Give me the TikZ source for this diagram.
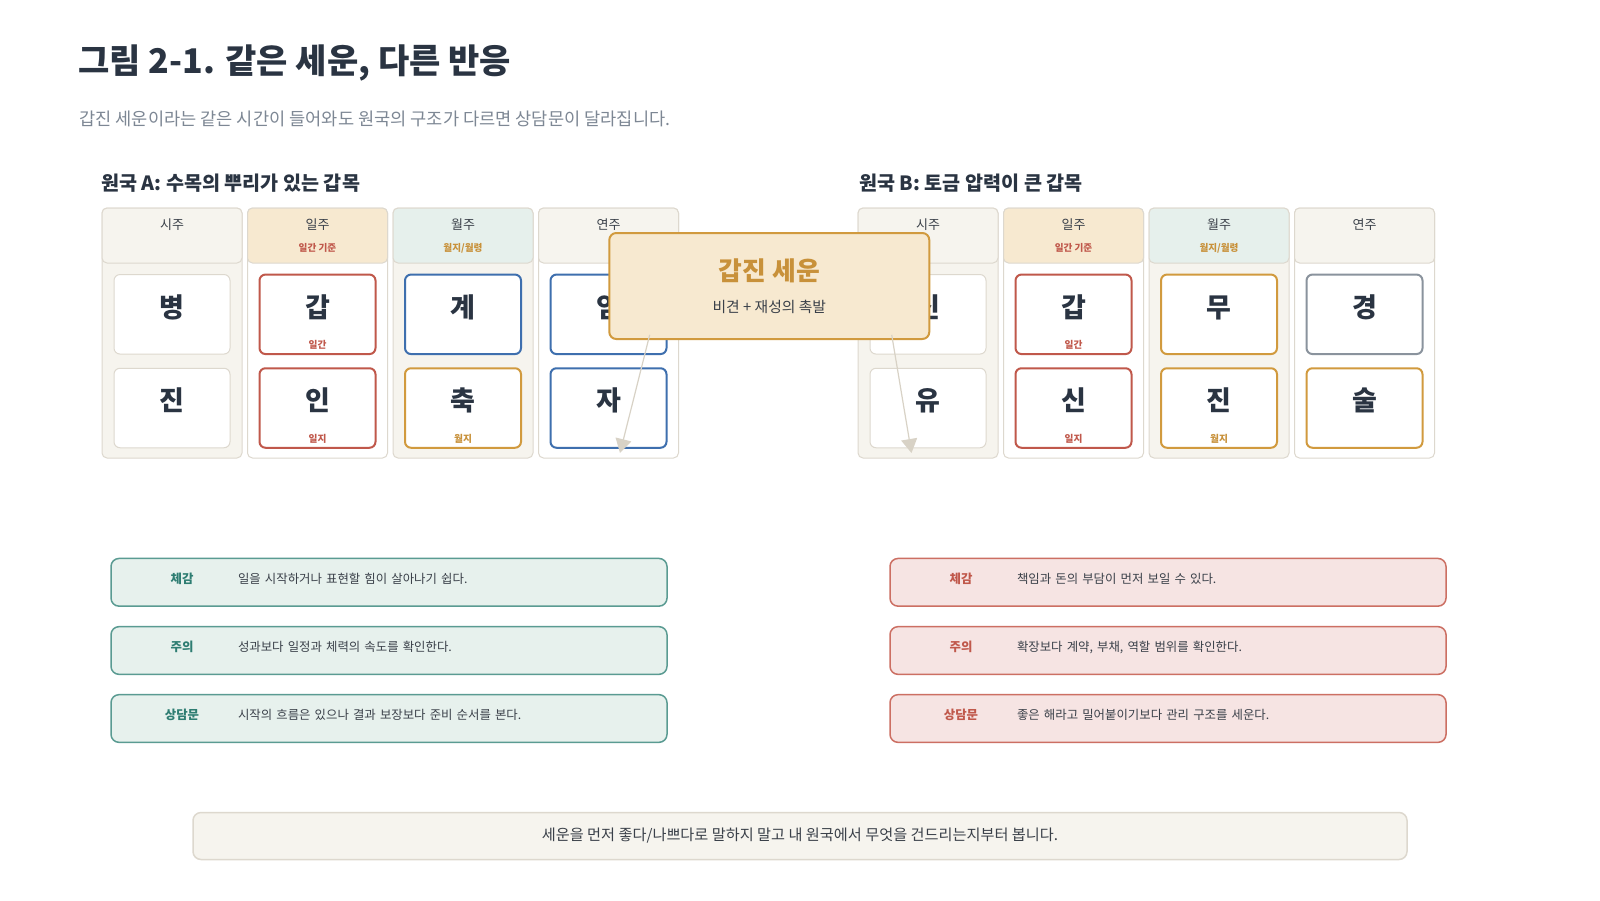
\documentclass[tikz,border=0pt]{standalone}
\usepackage{fontspec}
\setmainfont{Noto Sans CJK KR}
\usepackage{tikz}
\usetikzlibrary{positioning,arrows.meta}
\usepackage{xcolor}
\definecolor{ink}{HTML}{2A3442}
\definecolor{mutedInk}{HTML}{7D8794}
\definecolor{textInk}{HTML}{3A4049}
\definecolor{paperLine}{HTML}{DDD8CE}
\definecolor{paper}{HTML}{F6F4EE}
\definecolor{cream}{HTML}{F7E9D0}
\definecolor{mint}{HTML}{E6F0EC}
\definecolor{fireRed}{HTML}{C0584B}
\definecolor{waterBlue}{HTML}{3E6FAE}
\definecolor{earthGold}{HTML}{D19A3E}
\definecolor{goldInk}{HTML}{C8913A}
\definecolor{metalGray}{HTML}{8A939D}
\definecolor{arrowGray}{HTML}{D8D2C6}
\definecolor{tealLine}{HTML}{5A9B92}
\definecolor{tealFill}{HTML}{E7F1ED}
\definecolor{tealInk}{HTML}{2E7D72}
\definecolor{roseFill}{HTML}{F6E4E3}
\definecolor{roseLine}{HTML}{CC6F63}

\begin{document}
\begin{tikzpicture}[x=0.5pt, y=-0.5pt,
    titleText/.style={anchor=west, inner sep=0pt, font=\bfseries\fontsize{17pt}{20pt}\selectfont, text=ink},
    leadText/.style={anchor=west, inner sep=0pt, font=\fontsize{8.8pt}{10pt}\selectfont, text=mutedInk},
    chartTitle/.style={anchor=west, inner sep=0pt, font=\bfseries\fontsize{9.8pt}{11pt}\selectfont, text=ink},
    pillarCol/.style={rectangle, rounded corners=2.5pt, draw=paperLine, line width=0.5pt, minimum width=70pt, minimum height=125pt, inner sep=0pt},
    pillarHead/.style={rectangle, rounded corners=2.5pt, draw=paperLine, line width=0.5pt, minimum width=70pt, minimum height=27.5pt, inner sep=0pt, text height=10.5pt, text depth=17pt, font=\fontsize{6.5pt}{8pt}\selectfont, text=textInk},
    headSub/.style={inner sep=0pt, yshift=10.5pt, font=\bfseries\fontsize{4.8pt}{6pt}\selectfont},
    cellBox/.style={rectangle, rounded corners=3pt, fill=white, minimum width=58pt, minimum height=39.75pt, inner sep=0pt, text height=21.25pt, text depth=18.5pt, font=\bfseries\fontsize{13.5pt}{16pt}\selectfont, text=ink},
    cellPlain/.style={cellBox, draw=paperLine, line width=0.5pt},
    cellFire/.style={cellBox, draw=fireRed, line width=1pt},
    cellWater/.style={cellBox, draw=waterBlue, line width=1pt},
    cellEarth/.style={cellBox, draw=earthGold, line width=1pt},
    cellMetal/.style={cellBox, draw=metalGray, line width=1pt},
    cellSub/.style={inner sep=0pt, yshift=7.65pt, font=\bfseries\fontsize{4.85pt}{6pt}\selectfont},
    sewoonBox/.style={rectangle, rounded corners=3.5pt, draw=earthGold, fill=cream, line width=1pt, minimum width=160pt, minimum height=53pt, align=center, font=\fontsize{7.4pt}{16pt}\selectfont, text=textInk},
    kickArrow/.style={-{Triangle[length=7pt,width=8pt]}, draw=arrowGray, line width=0.6pt},
    cardBase/.style={rectangle, rounded corners=4pt, line width=0.75pt, minimum height=23.85pt, text width=243pt, inner xsep=17.5pt, inner ysep=0pt, align=left, text height=12.35pt, text depth=11.5pt, font=\fontsize{6.2pt}{8pt}\selectfont, text=textInk},
    cardTeal/.style={cardBase, draw=tealLine, fill=tealFill},
    cardRose/.style={cardBase, draw=roseLine, fill=roseFill},
    noteBar/.style={rectangle, rounded corners=4pt, draw=paperLine, fill=paper, line width=0.75pt, minimum width=607pt, minimum height=23.5pt, font=\fontsize{7.6pt}{9pt}\selectfont, text=textInk}
]
    \fill[white] (0,0) rectangle (1600,900);
    \useasboundingbox (0,0) rectangle (1600,900);

    \node[titleText] (figTitle) at (78,63) {그림 2-1. 같은 세운, 다른 반응};
    \node[leadText] (figLead) at (79,119) {갑진 세운이라는 같은 시간이 들어와도 원국의 구조가 다르면 상담문이 달라집니다.};

    % 원국 A
    \node[chartTitle] (titleA) at (101,183) {원국 A: 수목의 뿌리가 있는 갑목};

    \node[pillarCol, fill=paper] (colA1) at (172,333) {};
    \node[pillarCol, fill=white] (colA2) at (317.5,333) {};
    \node[pillarCol, fill=paper] (colA3) at (463,333) {};
    \node[pillarCol, fill=white] (colA4) at (608.5,333) {};

    \node[pillarHead, fill=paper, below=0pt of colA1.north] (headA1) {시주};
    \node[pillarHead, fill=cream, below=0pt of colA2.north, label={[headSub, text=fireRed]below:일간 기준}] (headA2) {일주};
    \node[pillarHead, fill=mint, below=0pt of colA3.north, label={[headSub, text=goldInk]below:월지/월령}] (headA3) {월주};
    \node[pillarHead, fill=paper, below=0pt of colA4.north] (headA4) {연주};

    \node[cellPlain] (cellA1t) at (172,314.3) {병};
    \node[cellPlain] (cellA1b) at (172,408) {진};
    \node[cellFire, label={[cellSub, text=fireRed]below:일간}] (cellA2t) at (317.5,314.3) {갑};
    \node[cellFire, label={[cellSub, text=fireRed]below:일지}] (cellA2b) at (317.5,408) {인};
    \node[cellWater] (cellA3t) at (463,314.3) {계};
    \node[cellEarth, label={[cellSub, text=goldInk]below:월지}] (cellA3b) at (463,408) {축};
    \node[cellWater] (cellA4t) at (608.5,314.3) {임};
    \node[cellWater] (cellA4b) at (608.5,408) {자};

    % 원국 B
    \node[chartTitle] (titleB) at (859,183) {원국 B: 토금 압력이 큰 갑목};

    \node[pillarCol, fill=paper] (colB1) at (928,333) {};
    \node[pillarCol, fill=white] (colB2) at (1073.5,333) {};
    \node[pillarCol, fill=paper] (colB3) at (1219,333) {};
    \node[pillarCol, fill=white] (colB4) at (1364.5,333) {};

    \node[pillarHead, fill=paper, below=0pt of colB1.north] (headB1) {시주};
    \node[pillarHead, fill=cream, below=0pt of colB2.north, label={[headSub, text=fireRed]below:일간 기준}] (headB2) {일주};
    \node[pillarHead, fill=mint, below=0pt of colB3.north, label={[headSub, text=goldInk]below:월지/월령}] (headB3) {월주};
    \node[pillarHead, fill=paper, below=0pt of colB4.north] (headB4) {연주};

    \node[cellPlain] (cellB1t) at (928,314.3) {신};
    \node[cellPlain] (cellB1b) at (928,408) {유};
    \node[cellFire, label={[cellSub, text=fireRed]below:일간}] (cellB2t) at (1073.5,314.3) {갑};
    \node[cellFire, label={[cellSub, text=fireRed]below:일지}] (cellB2b) at (1073.5,408) {신};
    \node[cellEarth] (cellB3t) at (1219,314.3) {무};
    \node[cellEarth, label={[cellSub, text=goldInk]below:월지}] (cellB3b) at (1219,408) {진};
    \node[cellMetal] (cellB4t) at (1364.5,314.3) {경};
    \node[cellEarth] (cellB4b) at (1364.5,408) {술};

    % 세운 overlay
    \node[sewoonBox] (sewoon) at (769.3,286) {{\bfseries\fontsize{12.9pt}{16pt}\selectfont\color{goldInk}갑진 세운}\\ 비견 + 재성의 촉발};

    \coordinate (hitA) at (620,453);
    \coordinate (hitB) at (911.5,453);
    \draw[kickArrow] ([xshift=20.7pt, yshift=2.6pt]sewoon.south west) -- (hitA);
    \draw[kickArrow] ([xshift=-19.3pt, yshift=2.6pt]sewoon.south east) -- (hitB);

    % reading cards
    \node[cardTeal] (feelA) at (389,582.3) {\makebox[36pt]{\textcolor{tealInk}{\textbf{체감}}}\hspace{10pt}일을 시작하거나 표현할 힘이 살아나기 쉽다.};
    \node[cardTeal] (careA) at (389,650.5) {\makebox[36pt]{\textcolor{tealInk}{\textbf{주의}}}\hspace{10pt}성과보다 일정과 체력의 속도를 확인한다.};
    \node[cardTeal] (noteA) at (389,718.5) {\makebox[36pt]{\textcolor{tealInk}{\textbf{상담문}}}\hspace{10pt}시작의 흐름은 있으나 결과 보장보다 준비 순서를 본다.};

    \node[cardRose] (feelB) at (1168,582.3) {\makebox[36pt]{\textcolor{fireRed}{\textbf{체감}}}\hspace{10pt}책임과 돈의 부담이 먼저 보일 수 있다.};
    \node[cardRose] (careB) at (1168,650.5) {\makebox[36pt]{\textcolor{fireRed}{\textbf{주의}}}\hspace{10pt}확장보다 계약, 부채, 역할 범위를 확인한다.};
    \node[cardRose] (noteB) at (1168,718.5) {\makebox[36pt]{\textcolor{fireRed}{\textbf{상담문}}}\hspace{10pt}좋은 해라고 밀어붙이기보다 관리 구조를 세운다.};

    \node[noteBar] (footNote) at (800,836) {세운을 먼저 좋다/나쁘다로 말하지 말고 내 원국에서 무엇을 건드리는지부터 봅니다.};
\end{tikzpicture}
\end{document}
